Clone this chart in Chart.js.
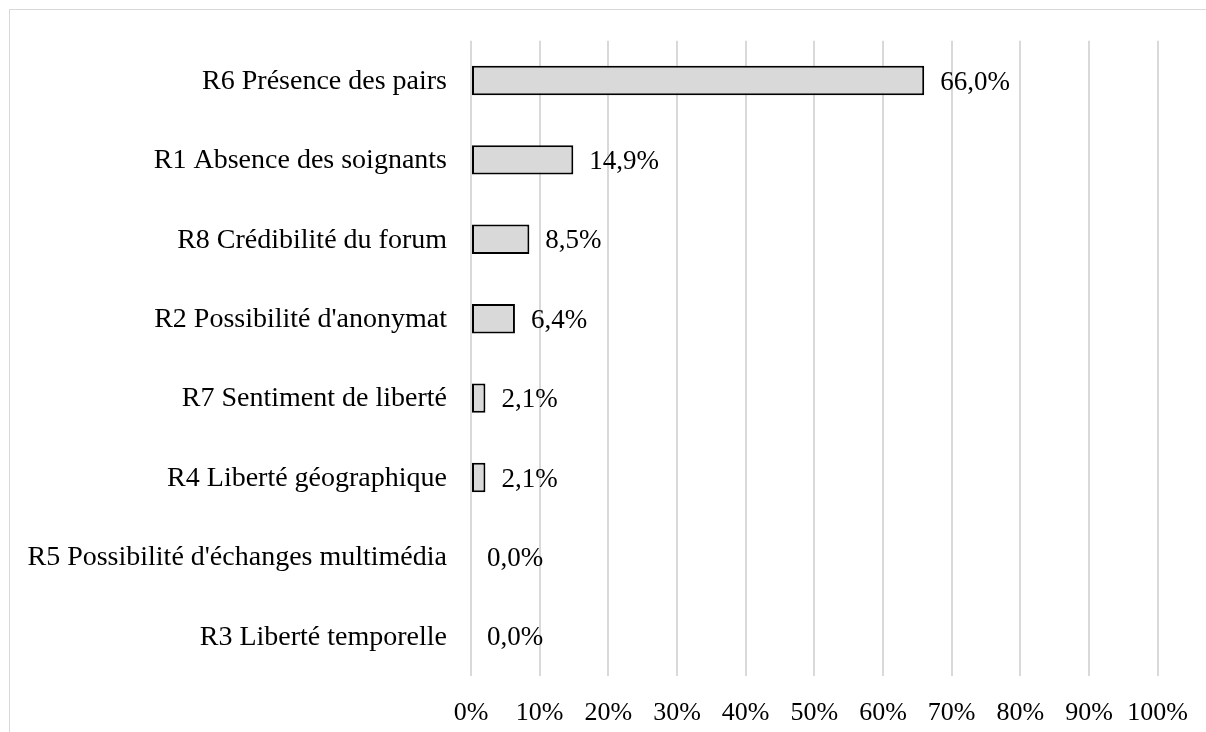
<!DOCTYPE html>
<html>
<head>
<meta charset="utf-8">
<script src="https://cdn.jsdelivr.net/npm/chart.js@4"></script>
<style>
    html, body { margin: 0; padding: 0; background: #fff; overflow: hidden; }
    #wrap { position: relative; width: 1206px; height: 732px; }
    #frame {
        position: absolute; left: 9px; top: 9px; width: 1400px; height: 900px;
        border: 1.5px solid #d9d9d9; box-sizing: border-box;
    }
    canvas { position: absolute; left: 0; top: 0; }
</style>
</head>
<body>
<div id="wrap">
    <div id="frame"></div>
    <canvas id="chart" width="1206" height="732"></canvas>
</div>
<script>
// --- DATA ---
const categories = [
    "R6 Présence des pairs",
    "R1 Absence des soignants",
    "R8 Crédibilité du forum",
    "R2 Possibilité d'anonymat",
    "R7 Sentiment de liberté",
    "R4 Liberté géographique",
    "R5 Possibilité d'échanges multimédia",
    "R3 Liberté temporelle"
];
const values = [66.0, 14.9, 8.5, 6.4, 2.1, 2.1, 0.0, 0.0];
const xTicks = [0, 10, 20, 30, 40, 50, 60, 70, 80, 90, 100];

const FONT = "'Liberation Serif', 'Times New Roman', serif";

// value labels to the right of each bar
const valueLabels = {
    id: 'valueLabels',
    afterDatasetsDraw(chart) {
        const ctx = chart.ctx;
        const meta = chart.getDatasetMeta(0);
        ctx.save();
        ctx.font = "27px " + FONT;
        ctx.fillStyle = "#000";
        ctx.textAlign = "left";
        ctx.textBaseline = "middle";
        meta.data.forEach((bar, i) => {
            const txt = values[i].toFixed(1).replace('.', ',') + '%';
            ctx.fillText(txt, bar.x + 16, bar.y + 2);
        });
        ctx.restore();
    }
};

new Chart(document.getElementById('chart'), {
    type: 'bar',
    data: {
        labels: categories,
        datasets: [{
            data: values,
            backgroundColor: '#d9d9d9',
            borderColor: '#000',
            borderWidth: 2,
            borderSkipped: false,
            barPercentage: 0.37,
            categoryPercentage: 1
        }]
    },
    options: {
        indexAxis: 'y',
        responsive: false,
        animation: false,
        devicePixelRatio: 1,
        layout: { padding: { top: 38, right: 40, left: 0, bottom: 0 } },
        plugins: { legend: { display: false }, tooltip: { enabled: false } },
        scales: {
            x: {
                min: 0, max: 100,
                afterBuildTicks: (s) => { s.ticks = xTicks.map(v => ({ value: v })); },
                afterFit: (s) => { s.height = 56; },
                grid: { color: '#d9d9d9', lineWidth: 2, drawTicks: true, tickLength: 4, tickColor: 'rgba(0,0,0,0)' },
                border: { display: false },
                ticks: {
                    padding: 18,
                    color: '#000',
                    font: { family: FONT, size: 26 },
                    callback: (v) => v + '%'
                }
            },
            y: {
                afterFit: (s) => { s.width = 471; },
                grid: { display: false, drawTicks: false },
                border: { display: false },
                ticks: {
                    padding: 24,
                    labelOffset: 1,
                    color: '#000',
                    font: { family: FONT, size: 28 }
                }
            }
        }
    },
    plugins: [valueLabels]
});
</script>
</body>
</html>
